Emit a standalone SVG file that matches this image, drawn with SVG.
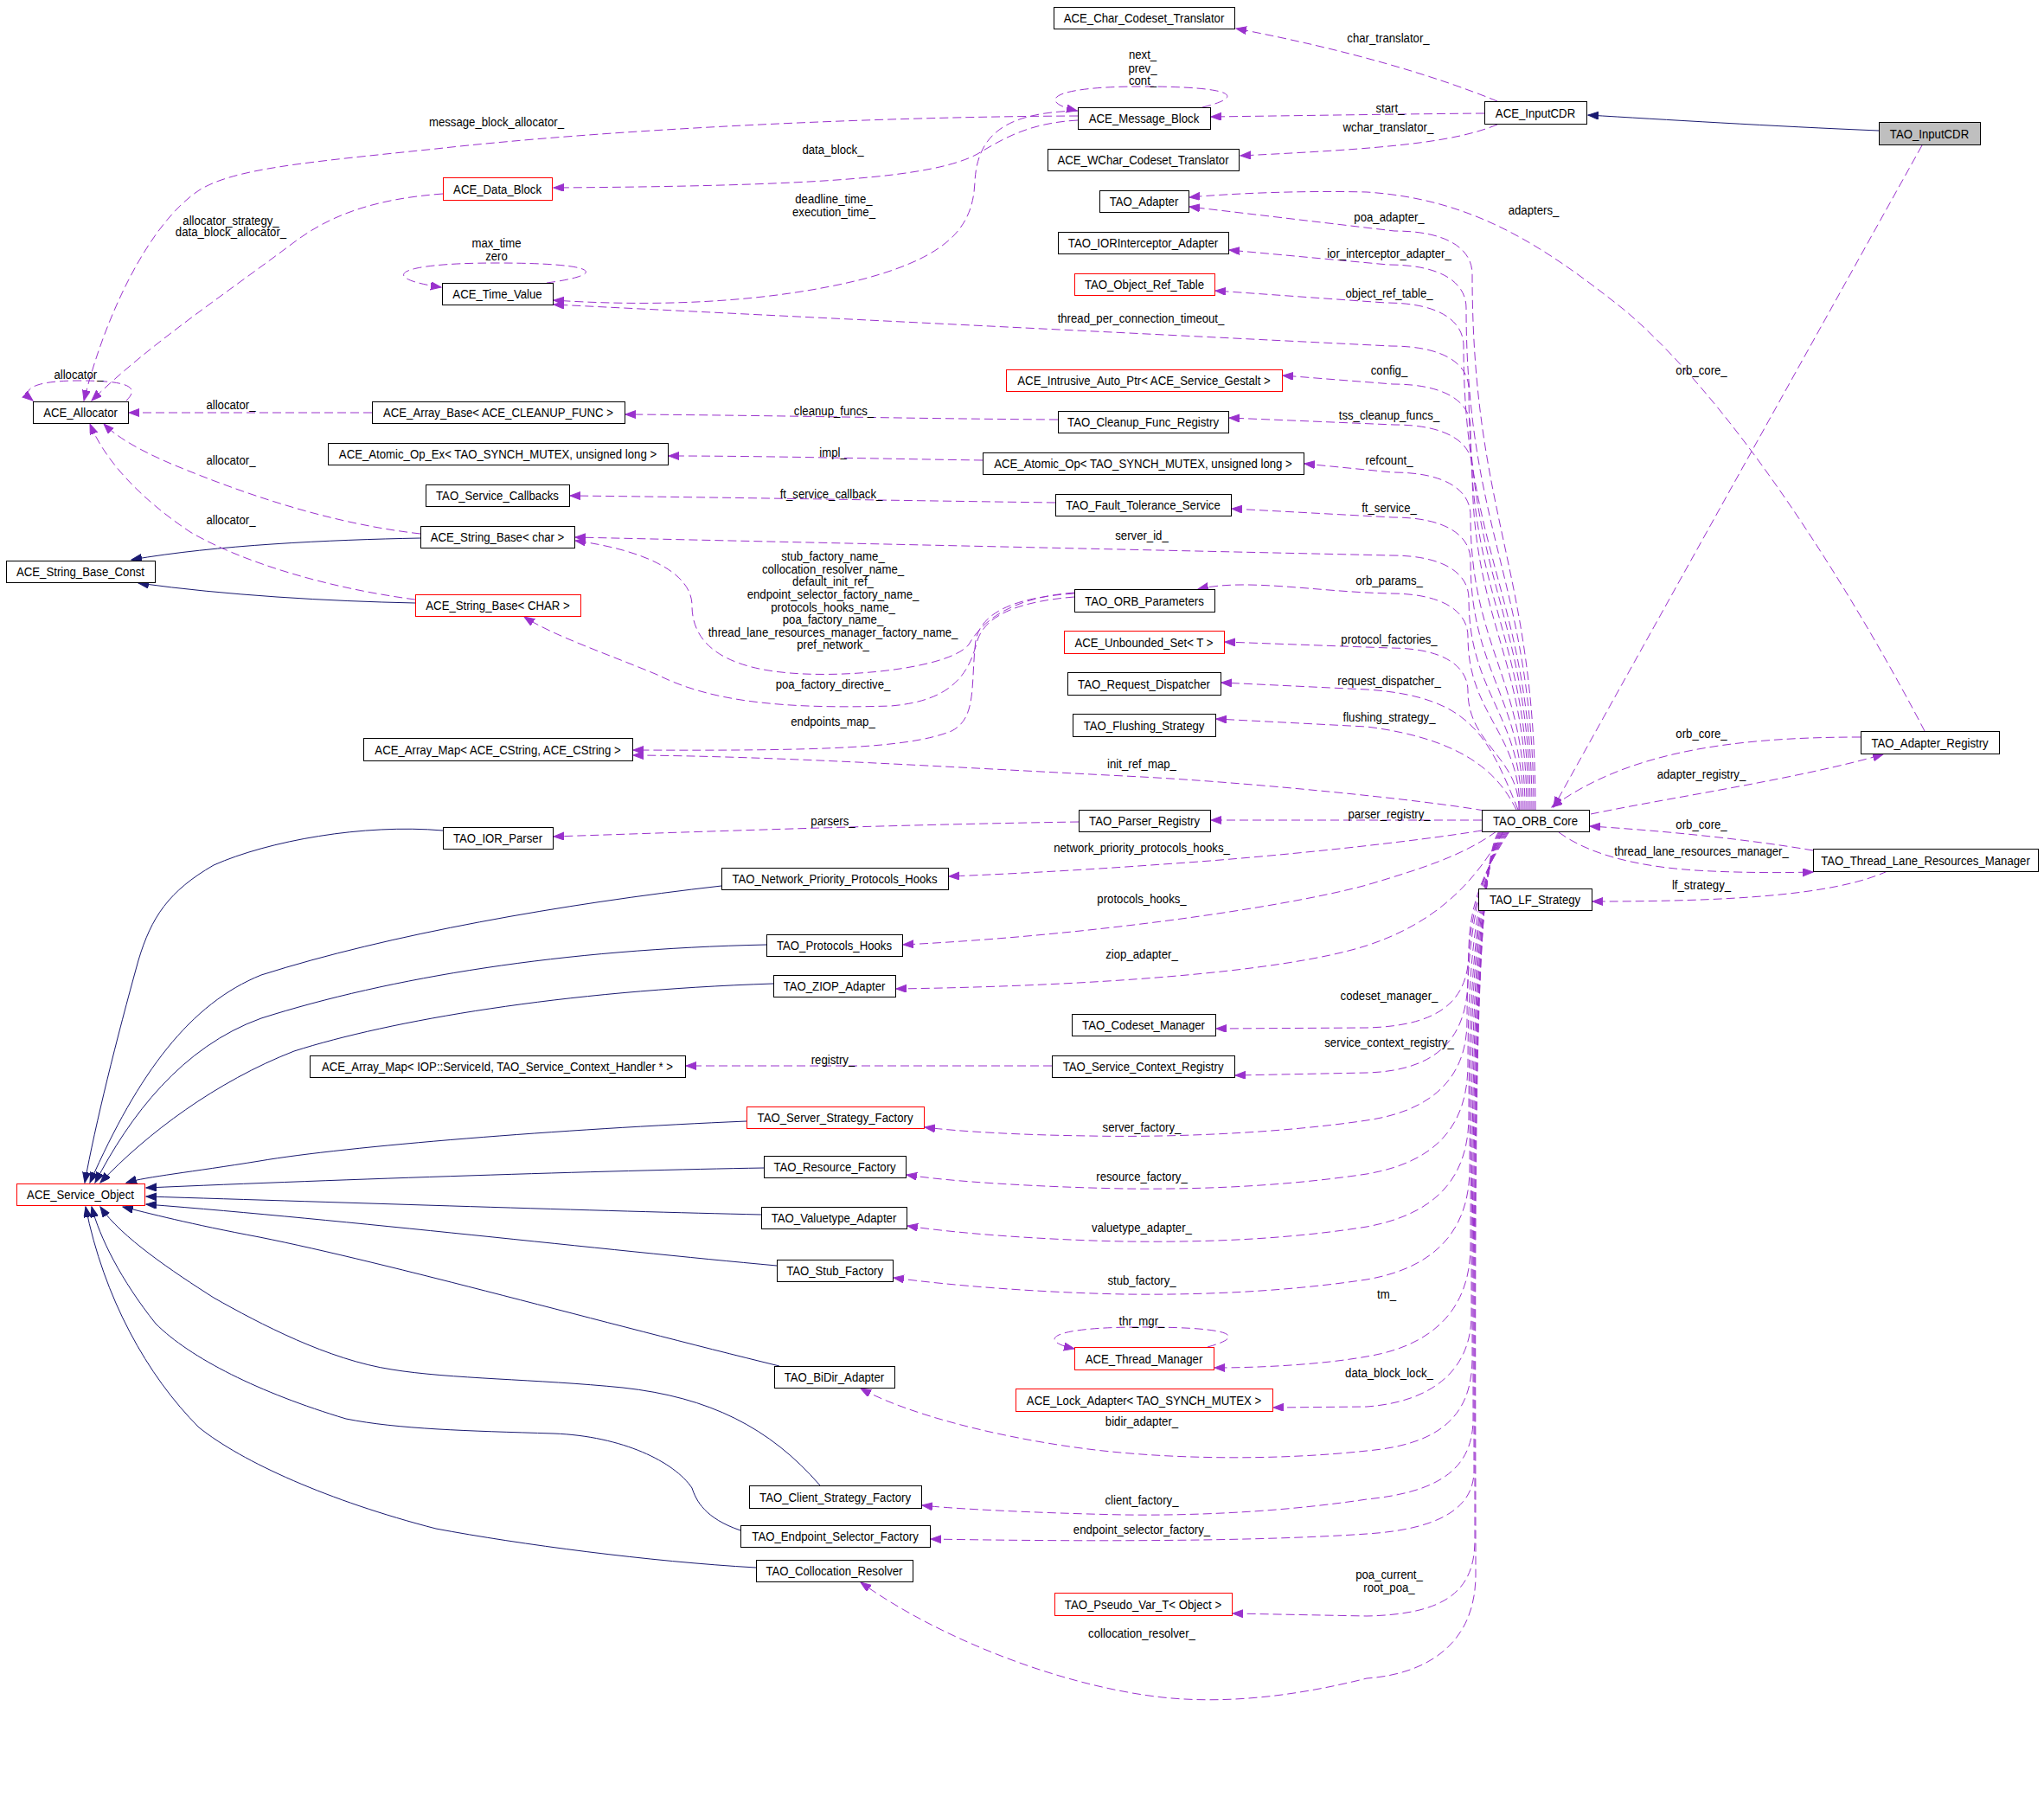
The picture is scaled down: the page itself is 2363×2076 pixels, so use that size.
<svg xmlns="http://www.w3.org/2000/svg" width="2363" height="2076" viewBox="0 0 2363 2076">
<style>
.n rect{fill:#fff;stroke:#000;stroke-width:1}
.n.r rect{stroke:#f00}
.n.g rect{fill:#bfbfbf}
text{font-family:"Liberation Sans",Arial,sans-serif;font-size:15px;fill:#000;text-anchor:middle;transform-box:fill-box;transform-origin:center;transform:translateY(0.8px) scaleX(0.88)}
.u{fill:none;stroke:#9a32cd;stroke-width:1;stroke-dasharray:10,5;marker-end:url(#pa)}
.i{fill:none;stroke:#191970;stroke-width:1;marker-end:url(#na)}
</style>
<defs>
<marker id="pa" markerUnits="userSpaceOnUse" markerWidth="14" markerHeight="10" refX="12" refY="4.5" orient="auto"><path d="M0,0 L12,4.5 L0,9 z" fill="#9a32cd" stroke="#9a32cd" stroke-width="1"/></marker>
<marker id="na" markerUnits="userSpaceOnUse" markerWidth="14" markerHeight="10" refX="12" refY="4.5" orient="auto"><path d="M0,0 L12,4.5 L0,9 z" fill="#191970" stroke="#191970" stroke-width="1"/></marker>
</defs>
<rect width="2363" height="2076" fill="#fff"/>
<g id="connectors">
<path class="i" d="M 2172,151 C 2050,146 1920,138 1836,133"/>
<path class="i" d="M 486,622 C 380,624 250,630 152,647"/>
<path class="i" d="M 480,697 C 380,695 260,688 160,674"/>
<path class="i" d="M 512,960 C 420,952 310,972 247,1000 C 195,1030 175,1060 160,1110 C 135,1200 110,1300 98,1367"/>
<path class="i" d="M 834,1024 C 650,1045 450,1080 302,1127 C 220,1160 160,1240 104,1367"/>
<path class="i" d="M 886,1092 C 650,1097 450,1130 302,1177 C 210,1210 150,1290 110,1367"/>
<path class="i" d="M 894,1137 C 650,1145 450,1180 340,1215 C 250,1250 170,1310 116,1367"/>
<path class="i" d="M 863,1296 C 650,1305 400,1325 300,1342 C 220,1355 170,1360 146,1367"/>
<path class="i" d="M 883,1350 C 700,1353 400,1363 169,1373"/>
<path class="i" d="M 880,1404 C 700,1400 400,1390 169,1383"/>
<path class="i" d="M 898,1463 C 700,1445 400,1410 169,1392"/>
<path class="i" d="M 901,1579 C 700,1530 450,1460 300,1430 C 220,1415 170,1402 142,1395"/>
<path class="i" d="M 948,1717 C 890,1650 820,1615 720,1604 C 620,1594 520,1594 453,1583 C 380,1572 300,1530 247,1500 C 200,1470 140,1430 116,1395"/>
<path class="i" d="M 856,1769 C 815,1755 805,1735 800,1720 C 780,1690 720,1660 640,1657 C 540,1654 460,1652 400,1640 C 300,1610 220,1570 180,1530 C 140,1480 115,1430 106,1395"/>
<path class="i" d="M 874,1812 C 750,1805 600,1785 504,1767 C 380,1735 280,1690 230,1650 C 170,1590 120,1500 99,1395"/>
<path class="u" d="M 1731,117 C 1660,88 1560,58 1429,33"/>
<path class="u" d="M 1716,131 C 1600,132 1480,134 1400,135"/>
<path class="u" d="M 1731,144 C 1680,165 1600,172 1434,180"/>
<path class="u" d="M 2222,168 L 1796,933"/>
<path class="u" d="M 1390,124 C 1440,112 1430,100 1320,100 C 1210,100 1200,118 1245,128"/>
<path class="u" d="M 1246,134 C 1000,135 700,150 504,172 C 350,188 270,195 230,220 C 170,260 120,370 97,463"/>
<path class="u" d="M 1246,139 C 1190,142 1160,160 1130,178 C 1080,205 950,215 640,217"/>
<path class="u" d="M 1246,128 C 1170,130 1130,150 1127,210 C 1125,260 1100,295 1000,322 C 890,350 760,355 640,347"/>
<path class="u" d="M 512,224 C 430,230 380,250 340,280 C 260,340 170,400 106,463"/>
<path class="u" d="M 632,327 C 700,318 700,304 574,304 C 450,304 440,322 510,332"/>
<path class="u" d="M 146,463 C 165,445 140,440 91,440 C 40,440 22,450 38,463"/>
<path class="u" d="M 430,477 L 149,477"/>
<path class="u" d="M 486,617 C 380,605 280,570 200,537 C 160,520 135,505 120,490"/>
<path class="u" d="M 480,693 C 380,680 280,650 220,615 C 160,575 120,530 104,490"/>
<path class="u" d="M 1223,485 C 1050,484 900,480 723,479"/>
<path class="u" d="M 1136,532 C 1000,530 880,527 773,527"/>
<path class="u" d="M 1220,581 C 1000,578 850,575 659,573"/>
<path class="u" d="M 1242,685 C 1180,690 1140,710 1120,745 C 1100,770 1000,782 930,779 C 830,775 800,740 800,700 C 800,660 740,635 665,625"/>
<path class="u" d="M 1242,690 C 1180,695 1140,710 1130,740 C 1120,780 1100,810 1030,816 C 900,820 820,810 760,780 C 700,755 640,735 606,713"/>
<path class="u" d="M 1242,686 C 1180,690 1135,705 1128,740 C 1122,790 1130,830 1100,845 C 1050,865 950,868 732,867"/>
<path class="u" d="M 1716,937 C 1640,924 1450,905 1320,898 C 1100,887 900,874 732,873"/>
<path class="u" d="M 1247,950 C 1050,953 850,960 640,967"/>
<path class="u" d="M 1216,1232 L 793,1232"/>
<path class="u" d="M 1396,1557 C 1440,1545 1430,1534 1320,1534 C 1210,1534 1200,1550 1242,1559"/>
<path class="u" d="M 2225,845 C 2160,720 2020,480 1880,360 C 1780,280 1700,230 1580,222 C 1500,220 1420,224 1375,228"/>
<path class="u" d="M 2151,852 C 2000,852 1880,870 1794,933"/>
<path class="u" d="M 1839,941 C 1930,922 2080,900 2177,872"/>
<path class="u" d="M 2096,983 C 2020,970 1920,960 1838,955"/>
<path class="u" d="M 1802,962 C 1840,990 1900,1002 1960,1006 C 2010,1009 2060,1009 2096,1008"/>
<path class="u" d="M 2182,1007 C 2120,1035 2000,1042 1841,1042"/>
<path class="u" d="M 1775,936 C 1775,657 1702,596 1702,317 C 1702,287 1672,267 1612,267 L 1375,239"/>
<path class="u" d="M 1773,936 C 1773,675 1695,617 1695,356 C 1695,326 1665,306 1605,306 L 1421,289"/>
<path class="u" d="M 1771,936 C 1771,695 1692,641 1692,400 C 1692,370 1662,350 1602,350 L 1405,336"/>
<path class="u" d="M 1769,936 C 1769,717 1698,669 1698,450 C 1698,420 1668,400 1608,400 L 640,352"/>
<path class="u" d="M 1767,936 C 1767,737 1700,693 1700,494 C 1700,464 1670,444 1610,444 L 1483,434"/>
<path class="u" d="M 1765,936 C 1765,758 1702,719 1702,541 C 1702,511 1672,491 1612,491 L 1421,483"/>
<path class="u" d="M 1763,936 C 1763,783 1700,749 1700,596 C 1700,566 1670,546 1610,546 L 1508,536"/>
<path class="u" d="M 1761,936 C 1761,806 1700,778 1700,648 C 1700,618 1670,598 1610,598 L 1424,588"/>
<path class="u" d="M 1759,936 C 1759,826 1698,802 1698,692 C 1698,662 1668,642 1608,642 L 665,621"/>
<path class="u" d="M 1757,936 C 1757,846 1697,826 1697,736 C 1697,706 1667,686 1607,686 C 1520,684 1440,668 1385,681"/>
<path class="u" d="M 1756,936 C 1756,874 1697,861 1697,799 C 1697,769 1667,749 1607,749 L 1416,742"/>
<path class="u" d="M 1755,936 C 1720,850 1700,805 1580,797 L 1412,789"/>
<path class="u" d="M 1753,936 C 1735,900 1700,855 1580,840 L 1406,831"/>
<path class="u" d="M 1713,948 L 1400,948"/>
<path class="u" d="M 1713,960 C 1640,972 1480,990 1344,999 C 1250,1006 1150,1011 1097,1013"/>
<path class="u" d="M 1730,961 C 1690,990 1640,1005 1580,1023 C 1480,1050 1250,1082 1044,1092"/>
<path class="u" d="M 1738,961 C 1700,1030 1650,1070 1580,1093 C 1480,1125 1250,1140 1036,1143"/>
<path class="u" d="M 1745,961 C 1720,1000 1698,1040 1698,1100 C 1698,1160 1660,1186 1580,1188 L 1406,1189"/>
<path class="u" d="M 1744,961 C 1718,1000 1697,1050 1697,1130 C 1697,1210 1650,1238 1580,1240 L 1428,1243"/>
<path class="u" d="M 1743,961 C 1716,1000 1696,1060 1696,1180 C 1696,1250 1650,1285 1580,1295 C 1480,1310 1350,1315 1260,1313 C 1180,1312 1110,1308 1069,1303"/>
<path class="u" d="M 1742,961 C 1714,1000 1697,1080 1697,1230 C 1697,1310 1650,1345 1580,1357 C 1480,1372 1380,1375 1300,1374 C 1200,1372 1100,1366 1048,1358"/>
<path class="u" d="M 1741,961 C 1712,1000 1698,1100 1698,1290 C 1698,1370 1650,1405 1580,1418 C 1480,1434 1380,1436 1300,1435 C 1200,1433 1100,1425 1049,1417"/>
<path class="u" d="M 1740,961 C 1710,1000 1699,1120 1699,1350 C 1699,1430 1650,1467 1580,1479 C 1480,1494 1380,1497 1300,1496 C 1200,1494 1100,1486 1033,1477"/>
<path class="u" d="M 1739,961 C 1708,1000 1700,1150 1700,1440 C 1700,1510 1660,1555 1580,1568 C 1530,1577 1460,1581 1404,1581"/>
<path class="u" d="M 1738,961 C 1706,1000 1701,1200 1701,1520 C 1701,1580 1660,1620 1580,1626 L 1472,1627"/>
<path class="u" d="M 1737,961 C 1705,1000 1702,1250 1702,1570 C 1702,1640 1660,1670 1580,1677 C 1480,1688 1350,1688 1243,1673 C 1150,1660 1050,1635 995,1605"/>
<path class="u" d="M 1736,961 C 1704,1000 1703,1300 1703,1640 C 1703,1700 1660,1725 1580,1733 C 1480,1748 1380,1752 1300,1751 C 1200,1749 1100,1744 1066,1740"/>
<path class="u" d="M 1735,961 C 1703,1000 1704,1350 1704,1700 C 1704,1745 1660,1768 1580,1773 C 1450,1782 1250,1782 1076,1779"/>
<path class="u" d="M 1734,961 C 1702,1000 1705,1400 1705,1780 C 1705,1840 1670,1866 1580,1868 L 1425,1865"/>
<path class="u" d="M 1733,961 C 1701,1000 1706,1450 1706,1820 C 1706,1900 1650,1935 1580,1940 C 1500,1960 1420,1970 1344,1962 C 1220,1948 1080,1890 995,1829"/>
</g>
<g id="labels">
<text x="1605" y="48.5">char_translator_</text>
<text x="1607" y="129.5">start_</text>
<text x="1605" y="151.5">wchar_translator_</text>
<text x="1321" y="67.5">next_</text>
<text x="1321" y="83.5">prev_</text>
<text x="1321" y="97.5">cont_</text>
<text x="574" y="145.5">message_block_allocator_</text>
<text x="963" y="177.5">data_block_</text>
<text x="964" y="234.5">deadline_time_</text>
<text x="964" y="249.5">execution_time_</text>
<text x="267" y="259.5">allocator_strategy_</text>
<text x="267" y="272.5">data_block_allocator_</text>
<text x="574" y="285.5">max_time</text>
<text x="574" y="300.5">zero</text>
<text x="91" y="437.5">allocator_</text>
<text x="267" y="472.5">allocator_</text>
<text x="267" y="536.5">allocator_</text>
<text x="267" y="605.5">allocator_</text>
<text x="964" y="479.5">cleanup_funcs_</text>
<text x="963" y="527.5">impl_</text>
<text x="961" y="575.5">ft_service_callback_</text>
<text x="1320" y="623.5">server_id_</text>
<text x="963" y="647.5">stub_factory_name_<tspan x="963" dy="14.6">collocation_resolver_name_</tspan><tspan x="963" dy="14.6">default_init_ref_</tspan><tspan x="963" dy="14.6">endpoint_selector_factory_name_</tspan><tspan x="963" dy="14.6">protocols_hooks_name_</tspan><tspan x="963" dy="14.6">poa_factory_name_</tspan><tspan x="963" dy="14.6">thread_lane_resources_manager_factory_name_</tspan><tspan x="963" dy="14.6">pref_network_</tspan></text>
<text x="963" y="795.5">poa_factory_directive_</text>
<text x="963" y="838.5">endpoints_map_</text>
<text x="1320" y="887.5">init_ref_map_</text>
<text x="963" y="953.5">parsers_</text>
<text x="1320" y="984.5">network_priority_protocols_hooks_</text>
<text x="1319" y="372.5">thread_per_connection_timeout_</text>
<text x="1773" y="247.5">adapters_</text>
<text x="1606" y="255.5">poa_adapter_</text>
<text x="1606" y="297.5">ior_interceptor_adapter_</text>
<text x="1606" y="343.5">object_ref_table_</text>
<text x="1606" y="432.5">config_</text>
<text x="1606" y="484.5">tss_cleanup_funcs_</text>
<text x="1967" y="432.5">orb_core_</text>
<text x="1606" y="536.5">refcount_</text>
<text x="1606" y="591.5">ft_service_</text>
<text x="1606" y="675.5">orb_params_</text>
<text x="1606" y="743.5">protocol_factories_</text>
<text x="1606" y="791.5">request_dispatcher_</text>
<text x="1606" y="833.5">flushing_strategy_</text>
<text x="1606" y="945.5">parser_registry_</text>
<text x="1967" y="852.5">orb_core_</text>
<text x="1967" y="899.5">adapter_registry_</text>
<text x="1967" y="957.5">orb_core_</text>
<text x="1967" y="988.5">thread_lane_resources_manager_</text>
<text x="1967" y="1027.5">lf_strategy_</text>
<text x="1320" y="1043.5">protocols_hooks_</text>
<text x="1320" y="1107.5">ziop_adapter_</text>
<text x="1606" y="1155.5">codeset_manager_</text>
<text x="1606" y="1209.5">service_context_registry_</text>
<text x="963" y="1229.5">registry_</text>
<text x="1320" y="1307.5">server_factory_</text>
<text x="1320" y="1364.5">resource_factory_</text>
<text x="1320" y="1423.5">valuetype_adapter_</text>
<text x="1320" y="1484.5">stub_factory_</text>
<text x="1603" y="1500.5">tm_</text>
<text x="1320" y="1531.5">thr_mgr_</text>
<text x="1606" y="1591.5">data_block_lock_</text>
<text x="1320" y="1647.5">bidir_adapter_</text>
<text x="1320" y="1738.5">client_factory_</text>
<text x="1320" y="1772.5">endpoint_selector_factory_</text>
<text x="1606" y="1824.5">poa_current_</text>
<text x="1606" y="1839.5">root_poa_</text>
<text x="1320" y="1892.5">collocation_resolver_</text>
</g>
<g id="n1" class="n"><rect x="1218.5" y="8.5" width="209" height="25"/><text x="1322.5" y="25">ACE_Char_Codeset_Translator</text></g>
<g id="n2" class="n"><rect x="1246.5" y="124.5" width="153" height="25"/><text x="1322.5" y="141">ACE_Message_Block</text></g>
<g id="n3" class="n"><rect x="1211.5" y="172.5" width="221" height="25"/><text x="1321.5" y="189">ACE_WChar_Codeset_Translator</text></g>
<g id="n4" class="n"><rect x="1271.5" y="220.5" width="103" height="25"/><text x="1322.5" y="237">TAO_Adapter</text></g>
<g id="n5" class="n"><rect x="1223.5" y="268.5" width="197" height="25"/><text x="1321.5" y="285">TAO_IORInterceptor_Adapter</text></g>
<g id="n6" class="n r"><rect x="1242.5" y="316.5" width="162" height="25"/><text x="1323" y="333">TAO_Object_Ref_Table</text></g>
<g id="n7" class="n r"><rect x="1163.5" y="427.5" width="319" height="25"/><text x="1322.5" y="444">ACE_Intrusive_Auto_Ptr&lt; ACE_Service_Gestalt &gt;</text></g>
<g id="n8" class="n"><rect x="1223.5" y="475.5" width="197" height="25"/><text x="1321.5" y="492">TAO_Cleanup_Func_Registry</text></g>
<g id="n9" class="n"><rect x="1716.5" y="117.5" width="118" height="26"/><text x="1775" y="135">ACE_InputCDR</text></g>
<g id="n10" class="n g"><rect x="2172.5" y="141.5" width="117" height="26"/><text x="2230.5" y="159">TAO_InputCDR</text></g>
<g id="n11" class="n r"><rect x="512.5" y="205.5" width="126" height="26"/><text x="575" y="223">ACE_Data_Block</text></g>
<g id="n12" class="n"><rect x="511.5" y="327.5" width="128" height="25"/><text x="575" y="344">ACE_Time_Value</text></g>
<g id="n13" class="n"><rect x="38.5" y="464.5" width="110" height="25"/><text x="93" y="481">ACE_Allocator</text></g>
<g id="n14" class="n"><rect x="430.5" y="464.5" width="292" height="25"/><text x="576" y="481">ACE_Array_Base&lt; ACE_CLEANUP_FUNC &gt;</text></g>
<g id="n15" class="n"><rect x="379.5" y="512.5" width="393" height="25"/><text x="575.5" y="529">ACE_Atomic_Op_Ex&lt; TAO_SYNCH_MUTEX, unsigned long &gt;</text></g>
<g id="n16" class="n"><rect x="492.5" y="560.5" width="166" height="25"/><text x="575" y="577">TAO_Service_Callbacks</text></g>
<g id="n17" class="n"><rect x="486.5" y="608.5" width="178" height="25"/><text x="575" y="625">ACE_String_Base&lt; char &gt;</text></g>
<g id="n18" class="n"><rect x="7.5" y="648.5" width="172" height="25"/><text x="93" y="665">ACE_String_Base_Const</text></g>
<g id="n19" class="n r"><rect x="480.5" y="687.5" width="191" height="25"/><text x="575.5" y="704">ACE_String_Base&lt; CHAR &gt;</text></g>
<g id="n20" class="n"><rect x="420.5" y="853.5" width="311" height="26"/><text x="575.5" y="871">ACE_Array_Map&lt; ACE_CString, ACE_CString &gt;</text></g>
<g id="n21" class="n"><rect x="512.5" y="956.5" width="127" height="25"/><text x="575.5" y="973">TAO_IOR_Parser</text></g>
<g id="n22" class="n"><rect x="1136.5" y="523.5" width="371" height="25"/><text x="1321.5" y="540">ACE_Atomic_Op&lt; TAO_SYNCH_MUTEX, unsigned long &gt;</text></g>
<g id="n23" class="n"><rect x="1220.5" y="571.5" width="203" height="25"/><text x="1321.5" y="588">TAO_Fault_Tolerance_Service</text></g>
<g id="n24" class="n"><rect x="1242.5" y="681.5" width="162" height="26"/><text x="1323" y="699">TAO_ORB_Parameters</text></g>
<g id="n25" class="n r"><rect x="1230.5" y="729.5" width="185" height="26"/><text x="1322.5" y="747">ACE_Unbounded_Set&lt; T &gt;</text></g>
<g id="n26" class="n"><rect x="1234.5" y="777.5" width="177" height="26"/><text x="1322.5" y="795">TAO_Request_Dispatcher</text></g>
<g id="n27" class="n"><rect x="1240.5" y="825.5" width="165" height="26"/><text x="1322.5" y="843">TAO_Flushing_Strategy</text></g>
<g id="n28" class="n"><rect x="1247.5" y="936.5" width="152" height="25"/><text x="1323" y="953">TAO_Parser_Registry</text></g>
<g id="n29" class="n"><rect x="1713.5" y="936.5" width="124" height="25"/><text x="1775" y="953">TAO_ORB_Core</text></g>
<g id="n30" class="n"><rect x="2151.5" y="845.5" width="160" height="26"/><text x="2231" y="863">TAO_Adapter_Registry</text></g>
<g id="n31" class="n"><rect x="2096.5" y="981.5" width="260" height="26"/><text x="2226" y="999">TAO_Thread_Lane_Resources_Manager</text></g>
<g id="n32" class="n"><rect x="1709.5" y="1027.5" width="131" height="25"/><text x="1774.5" y="1044">TAO_LF_Strategy</text></g>
<g id="n33" class="n"><rect x="358.5" y="1220.5" width="434" height="25"/><text x="575" y="1237">ACE_Array_Map&lt; IOP::ServiceId, TAO_Service_Context_Handler * &gt;</text></g>
<g id="n34" class="n r"><rect x="19.5" y="1368.5" width="148" height="25"/><text x="93" y="1385">ACE_Service_Object</text></g>
<g id="n35" class="n"><rect x="834.5" y="1003.5" width="262" height="25"/><text x="965" y="1020">TAO_Network_Priority_Protocols_Hooks</text></g>
<g id="n36" class="n"><rect x="886.5" y="1080.5" width="157" height="25"/><text x="964.5" y="1097">TAO_Protocols_Hooks</text></g>
<g id="n37" class="n"><rect x="894.5" y="1127.5" width="141" height="25"/><text x="964.5" y="1144">TAO_ZIOP_Adapter</text></g>
<g id="n38" class="n"><rect x="1239.5" y="1172.5" width="166" height="25"/><text x="1322" y="1189">TAO_Codeset_Manager</text></g>
<g id="n39" class="n"><rect x="1216.5" y="1220.5" width="211" height="25"/><text x="1321.5" y="1237">TAO_Service_Context_Registry</text></g>
<g id="n40" class="n r"><rect x="863.5" y="1279.5" width="205" height="25"/><text x="965.5" y="1296">TAO_Server_Strategy_Factory</text></g>
<g id="n41" class="n"><rect x="883.5" y="1336.5" width="164" height="25"/><text x="965" y="1353">TAO_Resource_Factory</text></g>
<g id="n42" class="n"><rect x="880.5" y="1395.5" width="168" height="25"/><text x="964" y="1412">TAO_Valuetype_Adapter</text></g>
<g id="n43" class="n"><rect x="898.5" y="1456.5" width="134" height="25"/><text x="965" y="1473">TAO_Stub_Factory</text></g>
<g id="n44" class="n r"><rect x="1242.5" y="1557.5" width="161" height="26"/><text x="1322.5" y="1575">ACE_Thread_Manager</text></g>
<g id="n45" class="n"><rect x="895.5" y="1579.5" width="139" height="25"/><text x="964.5" y="1596">TAO_BiDir_Adapter</text></g>
<g id="n46" class="n r"><rect x="1174.5" y="1605.5" width="297" height="26"/><text x="1322.5" y="1623">ACE_Lock_Adapter&lt; TAO_SYNCH_MUTEX &gt;</text></g>
<g id="n47" class="n"><rect x="866.5" y="1717.5" width="199" height="26"/><text x="965.5" y="1735">TAO_Client_Strategy_Factory</text></g>
<g id="n48" class="n"><rect x="856.5" y="1763.5" width="219" height="25"/><text x="965.5" y="1780">TAO_Endpoint_Selector_Factory</text></g>
<g id="n49" class="n"><rect x="874.5" y="1803.5" width="181" height="25"/><text x="964.5" y="1820">TAO_Collocation_Resolver</text></g>
<g id="n50" class="n r"><rect x="1219.5" y="1841.5" width="205" height="26"/><text x="1321.5" y="1859">TAO_Pseudo_Var_T&lt; Object &gt;</text></g>
</svg>
